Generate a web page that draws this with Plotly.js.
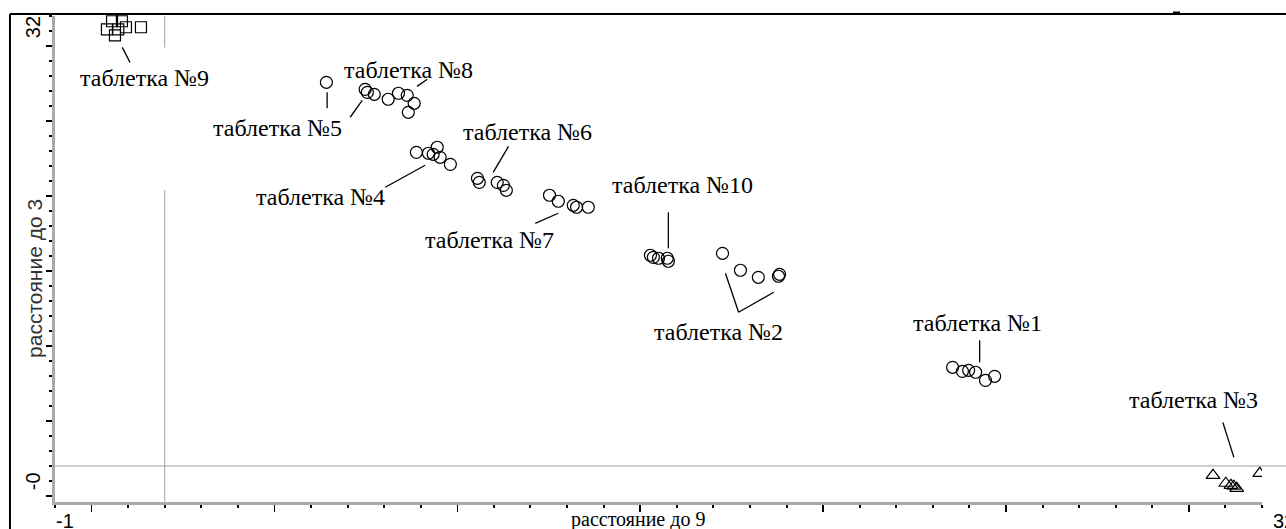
<!DOCTYPE html>
<html><head><meta charset="utf-8">
<script src="https://cdn.plot.ly/plotly-3.0.1.min.js"></script>
<style>html,body{margin:0;padding:0;background:#fff;}#chart{width:1286px;height:529px;}</style>
</head><body><div id="chart"></div>
<script>
// ---- data ----
const tablet9_x = [0.42, 0.56, 0.83, 0.64, 0.94, 1.35, 0.73];
const tablet9_y = [31.11, 31.65, 31.65, 30.71, 31.25, 31.25, 31.11];
const tablet5_x = [6.42, 7.48, 7.54, 7.73];
const tablet5_y = [27.58, 27.11, 26.91, 26.78];
const tablet8_x = [8.11, 8.39, 8.63, 8.82, 8.66];
const tablet8_y = [26.45, 26.85, 26.71, 26.18, 25.58];
const tablet4_x = [8.88, 9.21, 9.34, 9.45, 9.53, 9.81];
const tablet4_y = [22.91, 22.85, 22.78, 23.25, 22.58, 22.11];
const tablet6_x = [10.55, 10.60, 11.09, 11.26, 11.34];
const tablet6_y = [21.18, 20.91, 20.91, 20.71, 20.38];
const tablet7_x = [12.52, 12.76, 13.17, 13.26, 13.58];
const tablet7_y = [20.05, 19.65, 19.38, 19.25, 19.25];
const tablet10_x = [15.28, 15.36, 15.50, 15.74, 15.77];
const tablet10_y = [16.05, 15.91, 15.85, 15.85, 15.65];
const tablet2_x = [17.25, 17.74, 18.23, 18.78, 18.81];
const tablet2_y = [16.18, 15.05, 14.58, 14.65, 14.78];
const tablet1_x = [23.54, 23.81, 23.98, 24.17, 24.44, 24.69];
const tablet1_y = [8.58, 8.31, 8.38, 8.25, 7.71, 7.98];
const tablet3_x = [30.66, 31.01, 31.15, 31.23, 31.31, 31.94];
const tablet3_y = [1.38, 0.85, 0.71, 0.65, 0.51, 1.51];

const labelNames = ["таблетка №9","таблетка №5","таблетка №8","таблетка №4","таблетка №6",
                    "таблетка №7","таблетка №10","таблетка №2","таблетка №1","таблетка №3"];
const xTickText = ["-1", "32"];
const yTickText = ["32", "-0"];
const xTitle = "расстояние до 9";
const yTitle = "расстояние до 3";
const critX = 2, critY = 2;

// ---- layout helpers (positions of labels / leaders) ----
const labelPos = [[1.46,27.85],[5.07,24.51],[8.66,28.38],[6.25,19.91],[11.92,24.25],
                  [10.88,17.05],[16.15,20.71],[17.14,10.91],[24.23,11.51],[30.14,6.38]];
const leaders = [
  [[0.84,29.91],[1.05,28.91]],
  [[6.44,26.91],[6.44,25.85]],
  [[7.07,25.25],[7.40,26.38]],
  [[8.90,27.31],[9.18,27.78]],
  [[8.03,20.58],[9.12,22.05]],
  [[10.98,21.58],[11.40,23.31]],
  [[12.13,18.18],[12.76,18.85]],
  [[15.77,18.91],[15.77,16.51]],
  [[17.33,14.85],[17.69,12.25]],
  [[17.69,12.25],[18.65,13.58]],
  [[24.28,10.38],[24.28,8.91]],
  [[30.93,4.91],[31.23,2.58]]
];

const circX = [].concat(tablet5_x, tablet8_x, tablet4_x, tablet6_x, tablet7_x, tablet10_x, tablet2_x, tablet1_x);
const circY = [].concat(tablet5_y, tablet8_y, tablet4_y, tablet6_y, tablet7_y, tablet10_y, tablet2_y, tablet1_y);

const traces = [
  {x: tablet9_x, y: tablet9_y, mode: 'markers', type: 'scatter', cliponaxis: false,
   marker: {symbol: 'square-open', size: 11, color: '#000', line: {width: 1.2, color: '#000'}}},
  {x: circX, y: circY, mode: 'markers', type: 'scatter',
   marker: {symbol: 'circle-open', size: 12, color: '#000', line: {width: 1.2, color: '#000'}}},
  {x: tablet3_x, y: tablet3_y, mode: 'markers', type: 'scatter',
   marker: {symbol: 'triangle-up-open', size: 12, color: '#000', line: {width: 1.2, color: '#000'}}}
];

const shapes = [];
leaders.forEach(l => shapes.push({type: 'line', xref: 'x', yref: 'y',
  x0: l[0][0], y0: l[0][1], x1: l[1][0], y1: l[1][1], line: {color: '#000', width: 1.3}}));
// critical lines
shapes.push({type:'line', layer:'below', xref:'x', yref:'y', x0: critX, x1: critX, y0: -0.4, y1: 20.4, line:{color:'#a0a0a0', width:1}});
shapes.push({type:'line', layer:'below', xref:'x', yref:'y', x0: critX, x1: critX, y0: 29.9, y1: 32, line:{color:'#a0a0a0', width:1}});
shapes.push({type:'line', layer:'below', xref:'paper', yref:'y', x0: 0, x1: 1.03, y0: critY, y1: critY, line:{color:'#a0a0a0', width:1}});
// outer frame
shapes.push({type:'line', xref:'paper', yref:'paper', x0: -0.0373, x1: -0.0373, y0: 1.0041, y1: -0.07, line:{color:'#000', width:2}});
shapes.push({type:'line', xref:'paper', yref:'paper', x0: -0.0373, x1: 1.03, y0: 1.0041, y1: 1.0041, line:{color:'#000', width:2}});
shapes.push({type:'line', xref:'paper', yref:'paper', x0: 0.9263, x1: 0.9321, y0: 1.0062, y1: 1.0062, line:{color:'#000', width:3}});

const serif = '"Liberation Serif", "Times New Roman", Times, serif';
const sans = '"Liberation Sans", Arial, sans-serif';
const annotations = labelNames.map((t, i) => ({
  text: t, x: labelPos[i][0], y: labelPos[i][1], xref: 'x', yref: 'y', showarrow: false,
  xanchor: 'center', yanchor: 'middle',
  font: {family: serif, size: 24, color: '#000'}
}));
function ann(text, x, y, opts) {
  return Object.assign({text: text, xref:'paper', yref:'paper', x: x, y: y, showarrow:false,
    xanchor:'center', yanchor:'middle', font:{family: sans, size: 20, color:'#000'}}, opts || {});
}
annotations.push(ann(xTickText[0], 0.0083, -0.039));
annotations.push(ann(xTickText[1], 1.0182, -0.039));
annotations.push(ann(xTitle, 0.483, -0.037, {font:{family: serif, size: 20, color:'#000'}}));
annotations.push(ann(yTickText[0], -0.0182, 0.977, {textangle: -90}));
annotations.push(ann(yTickText[1], -0.0182, 0.043, {textangle: -90}));
annotations.push(ann(yTitle, -0.0166, 0.461, {textangle: -90, font:{family: sans, size: 21, color:'#333'}}));

const layout = {
  width: 1286, height: 529,
  margin: {l: 55, r: 24, t: 16, b: 27, pad: 0},
  paper_bgcolor: '#fff', plot_bgcolor: '#fff',
  showlegend: false,
  xaxis: {range: [-1, 32], showgrid: false, zeroline: false, showline: true, linecolor: '#aaa', linewidth: 3,
          ticks: 'outside', tickmode: 'linear', tick0: 0, dtick: 5, ticklen: 7, tickwidth: 1.5, tickcolor: '#000',
          showticklabels: false,
          minor: {ticks: 'outside', tickmode: 'linear', tick0: 0, dtick: 1, ticklen: 3, tickwidth: 2, tickcolor: '#000', showgrid: false}},
  yaxis: {range: [-0.4, 32], showgrid: false, zeroline: false, showline: true, linecolor: '#aaa', linewidth: 3,
          ticks: 'outside', tickmode: 'linear', tick0: 0, dtick: 5, ticklen: 6, tickwidth: 1.5, tickcolor: '#000',
          showticklabels: false,
          minor: {ticks: 'outside', tickmode: 'linear', tick0: 0, dtick: 1, ticklen: 3, tickwidth: 2, tickcolor: '#000', showgrid: false}},
  shapes: shapes,
  annotations: annotations
};

Plotly.newPlot('chart', traces, layout, {displayModeBar: false, staticPlot: true});
</script>
</body></html>
